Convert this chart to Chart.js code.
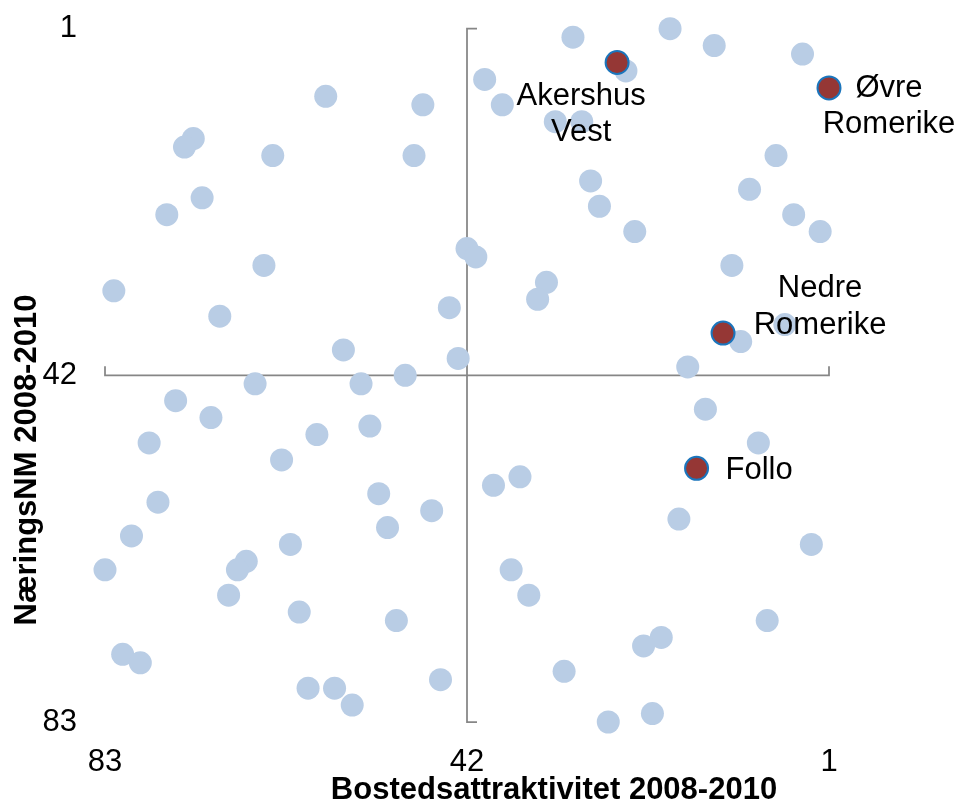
<!DOCTYPE html>
<html>
<head>
<meta charset="utf-8">
<title>Bostedsattraktivitet og NæringsNM 2008-2010</title>
<script src="https://cdn.jsdelivr.net/npm/chart.js@4.4.1/dist/chart.umd.min.js"></script>
<style>
  html, body { margin: 0; padding: 0; background: #fff; }
  #wrap { width: 958px; height: 806px; position: relative; }
</style>
</head>
<body>
<div id="wrap"><canvas id="chart"></canvas></div>
<script>
// ranks 2008-2010, 1 = best
const regionNames   = ["Akershus Vest", "Øvre Romerike", "Nedre Romerike", "Follo"];
const regionBosted  = [25, 1, 13, 16];
const regionNaering = [5, 8, 37, 53];

// all the other regions (unnamed in the chart)
const otherBosted  = [19, 30, 14, 4, 24, 40, 58, 47, 38, 32, 29, 73, 74, 64, 48, 7, 28, 10, 72, 27,
                      76, 5, 23, 2, 42, 41, 65, 12, 33, 82, 34, 44, 70, 6, 11, 56, 43, 17, 49, 66,
                      54, 75, 15, 71, 53, 59, 78, 9, 63, 36, 39, 52, 77, 46, 18, 51, 80, 62, 3, 67,
                      68, 83, 37, 69, 35, 61, 50, 8, 20, 22, 81, 79, 31, 45, 60, 57, 55, 21, 26];
const otherNaering = [1, 2, 3, 4, 6, 7, 9, 10, 10, 12, 12, 14, 15, 16, 16, 16, 19, 20, 21, 22,
                      23, 23, 25, 25, 27, 28, 29, 29, 31, 32, 33, 34, 35, 36, 38, 39, 40, 41, 42, 43,
                      43, 45, 46, 47, 48, 49, 50, 50, 52, 54, 55, 56, 57, 58, 59, 60, 61, 62, 62, 64,
                      65, 65, 65, 68, 68, 70, 71, 71, 73, 74, 75, 76, 77, 78, 79, 79, 81, 82, 83];

const tickValues = [1, 42, 83];
const rankMin = 1, rankMax = 83, axisCross = 42;

const xTitle = "Bostedsattraktivitet 2008-2010";
const yTitle = "NæringsNM 2008-2010";

const FONT = "'Liberation Sans', Arial, sans-serif";

// where each highlighted label sits relative to its marker
const labelPlacement = {
    "Akershus Vest":  { lines: ["Akershus", "Vest"],  dx: -36, dy: 42,  align: "center" },
    "Øvre Romerike":  { lines: ["Øvre", "Romerike"],  dx: 60,  dy: 9,   align: "center" },
    "Nedre Romerike": { lines: ["Nedre", "Romerike"], dx: 97,  dy: -36, align: "center" },
    "Follo":          { lines: ["Follo"],             dx: 29,  dy: 11,  align: "left" }
};

const toPoints = (xs, ys) => xs.map((v, i) => ({ x: v, y: ys[i] }));

// axes crossing at 42/42 with end ticks
const crossAxes = {
    id: "crossAxes",
    beforeDatasetsDraw(chart) {
        const { ctx, scales: { x, y } } = chart;
        const xMid = x.getPixelForValue(axisCross);
        const yMid = y.getPixelForValue(axisCross);
        const xL = x.getPixelForValue(rankMax), xR = x.getPixelForValue(rankMin);
        const yT = y.getPixelForValue(rankMin), yB = y.getPixelForValue(rankMax);
        ctx.save();
        ctx.strokeStyle = "#868686";
        ctx.lineWidth = 1.75;
        ctx.beginPath();
        ctx.moveTo(xL, yMid - 9); ctx.lineTo(xL, yMid); ctx.lineTo(xR, yMid); ctx.lineTo(xR, yMid - 9);
        ctx.moveTo(xMid + 10, yT); ctx.lineTo(xMid, yT); ctx.lineTo(xMid, yB); ctx.lineTo(xMid + 10, yB);
        ctx.stroke();
        ctx.restore();
    }
};

const pointLabels = {
    id: "pointLabels",
    afterDatasetsDraw(chart) {
        const ctx = chart.ctx;
        const meta = chart.getDatasetMeta(0);
        ctx.save();
        ctx.fillStyle = "#000";
        ctx.font = "31px " + FONT;
        ctx.textBaseline = "alphabetic";
        meta.data.forEach((pt, i) => {
            const p = labelPlacement[regionNames[i]];
            ctx.textAlign = p.align;
            p.lines.forEach((line, k) => {
                ctx.fillText(line, pt.x + p.dx, pt.y + p.dy + k * 36.5);
            });
        });
        ctx.restore();
    }
};

const axisTitles = {
    id: "axisTitles",
    afterDraw(chart) {
        const ctx = chart.ctx;
        ctx.save();
        ctx.fillStyle = "#000";
        ctx.font = "bold 31px " + FONT;
        ctx.textAlign = "center";
        ctx.textBaseline = "alphabetic";
        ctx.fillText(xTitle, 554, 799);
        ctx.translate(36, 460);
        ctx.rotate(-Math.PI / 2);
        ctx.fillText(yTitle, 0, 0);
        ctx.restore();
    }
};

const ctx = document.getElementById("chart").getContext("2d");
new Chart(ctx, {
    type: "scatter",
    data: {
        datasets: [
            {
                label: "Regioner",
                data: toPoints(regionBosted, regionNaering),
                backgroundColor: "#953735",
                borderColor: "#1B75BC",
                borderWidth: 2,
                pointRadius: 11.5,
                pointHoverRadius: 11.5,
                clip: false
            },
            {
                label: "Øvrige",
                data: toPoints(otherBosted, otherNaering),
                backgroundColor: "#B9CDE5",
                borderWidth: 0,
                pointRadius: 11.5,
                pointHoverRadius: 11.5,
                clip: false
            }
        ]
    },
    options: {
        responsive: true,
        maintainAspectRatio: false,
        animation: false,
        events: [],
        layout: { padding: { top: 28.7, right: 129, bottom: 0, left: 0 } },
        plugins: { legend: { display: false }, tooltip: { enabled: false } },
        scales: {
            x: {
                type: "linear",
                reverse: true,
                min: rankMin,
                max: rankMax,
                afterBuildTicks: s => { s.ticks = tickValues.map(v => ({ value: v })); },
                afterFit: s => { s.height = 84; s.paddingLeft = 0; s.paddingRight = 0; },
                grid: { display: false, drawTicks: false },
                border: { display: false },
                title: { display: false },
                ticks: { font: { size: 31, family: FONT }, color: "#000", padding: 22, maxRotation: 0, autoSkip: false }
            },
            y: {
                type: "linear",
                reverse: true,
                min: rankMin,
                max: rankMax,
                afterBuildTicks: s => { s.ticks = tickValues.map(v => ({ value: v })); },
                afterFit: s => { s.width = 105; s.paddingTop = 0; s.paddingBottom = 0; },
                grid: { display: false, drawTicks: false },
                border: { display: false },
                title: { display: false },
                ticks: { font: { size: 31, family: FONT }, color: "#000", padding: 28, autoSkip: false }
            }
        }
    },
    plugins: [crossAxes, pointLabels, axisTitles]
});
</script>
</body>
</html>
